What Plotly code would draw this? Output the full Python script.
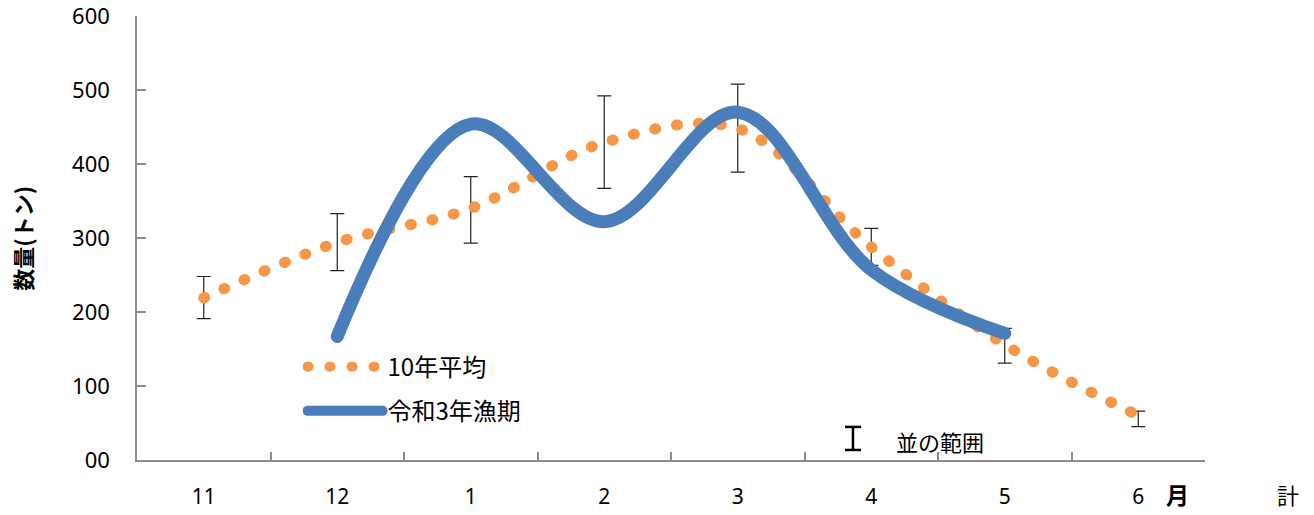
import plotly.graph_objects as go

# ---- data ----
months = ["11", "12", "1", "2", "3", "4", "5", "6"]
avg_10yr = [219, 294, 340, 429, 448, 288, 156, 60]
range_upper = [248, 333, 383, 492, 508, 313, 178, 66]
range_lower = [191, 256, 293, 367, 389, 263, 131, 45]
current = [None, 167, 454, 322, 470, 257, 171, None]
y_tickvals = [0, 100, 200, 300, 400, 500, 600]
y_ticktext = ["00", "100", "200", "300", "400", "500", "600"]

ORANGE = "#F79646"
BLUE = "#4A7EBB"
FONT = "Noto Sans, Noto Sans CJK JP, sans-serif"
JFONT = "Noto Sans CJK JP, Noto Sans, sans-serif"

err_plus = [u - v for u, v in zip(range_upper, avg_10yr)]
err_minus = [v - l for v, l in zip(avg_10yr, range_lower)]

fig = go.Figure()

# error bars (normal range)
fig.add_trace(go.Scatter(
    x=months, y=avg_10yr, mode="markers",
    marker=dict(size=1, opacity=0),
    error_y=dict(type="data", symmetric=False, array=err_plus, arrayminus=err_minus,
                 color="#222222", thickness=1.2, width=7),
    showlegend=False, hoverinfo="skip",
))

fig.add_trace(go.Scatter(
    x=months, y=avg_10yr, mode="lines", name="10年平均",
    line=dict(color=ORANGE, width=11, dash="1px,21px", shape="spline", smoothing=1.0),
    legendgroup="a",
))

fig.add_trace(go.Scatter(
    x=months, y=current, mode="lines", name="令和3年漁期",
    line=dict(color=BLUE, width=13, shape="spline", smoothing=1.0),
    legendgroup="b",
))

fig.update_layout(
    width=1314, height=515,
    margin=dict(l=137, r=109, t=16, b=55),
    paper_bgcolor="white", plot_bgcolor="white",
    font=dict(family=FONT, size=21, color="#000000"),
    showlegend=True,
    legend=dict(x=0.155, y=0.26, xanchor="left", yanchor="top",
                bgcolor="rgba(0,0,0,0)", font=dict(family=JFONT, size=24),
                itemwidth=75, tracegroupgap=10, traceorder="grouped"),
    xaxis=dict(type="category", range=[-0.5, 7.5], tickson="boundaries",
               ticks="inside", ticklen=8, tickcolor="#8c8c8c", tickwidth=1.5,
               showline=True, linecolor="#8c8c8c", linewidth=1.5,
               showgrid=False, zeroline=False, ticklabelstandoff=17,
               automargin=False, ticklabeloverflow="allow",
               tickfont=dict(family=FONT, size=21)),
    yaxis=dict(range=[0, 600], tickvals=y_tickvals, ticktext=y_ticktext,
               ticks="inside", ticklen=9, tickcolor="#8c8c8c", tickwidth=1.5,
               showline=True, linecolor="#8c8c8c", linewidth=1.5,
               showgrid=False, zeroline=False, ticklabelstandoff=21,
               automargin=False, ticklabeloverflow="allow",
               tickfont=dict(family=FONT, size=22)),
    annotations=[
        dict(text="<b>数量(トン)</b>", xref="paper", yref="paper", x=-0.108, y=0.50,
             xanchor="center", yanchor="middle",
             textangle=-90, showarrow=False, font=dict(family=JFONT, size=22)),
        dict(text="<b>月</b>", xref="paper", yref="paper", x=(1177 - 137) / 1068, y=-(494 - 460) / 444,
             xanchor="center", yanchor="middle",
             showarrow=False, font=dict(family=JFONT, size=23)),
        dict(text="計", xref="paper", yref="paper", x=(1288 - 137) / 1068, y=-(494 - 460) / 444,
             xanchor="center", yanchor="middle",
             showarrow=False, font=dict(family=JFONT, size=22)),
        dict(text="並の範囲", xref="paper", yref="paper", x=(894 - 137) / 1068, y=(460 - 441) / 444,
             xanchor="left", yanchor="middle",
             showarrow=False, font=dict(family=JFONT, size=22)),
    ],
    shapes=[
        dict(type="line", xref="paper", yref="paper", x0=0.6704, x1=0.6704,
             y0=0.0226, y1=0.0745, line=dict(color="#000000", width=2.5)),
        dict(type="line", xref="paper", yref="paper", x0=0.6629, x1=0.6779,
             y0=0.0745, y1=0.0745, line=dict(color="#000000", width=2.5)),
        dict(type="line", xref="paper", yref="paper", x0=0.6629, x1=0.6779,
             y0=0.0226, y1=0.0226, line=dict(color="#000000", width=2.5)),
    ],
)

post_js = """
document.body.style.margin = '0';
var gd = document.getElementById('{plot_id}');
function fixCaps(){
  gd.querySelectorAll('path.js-line').forEach(function(p){ p.style.strokeLinecap = 'round'; });
}
fixCaps();
if (gd.on) { gd.on('plotly_afterplot', fixCaps); }
"""

fig.write_html("out.html", post_script=post_js, config={"displayModeBar": False})
